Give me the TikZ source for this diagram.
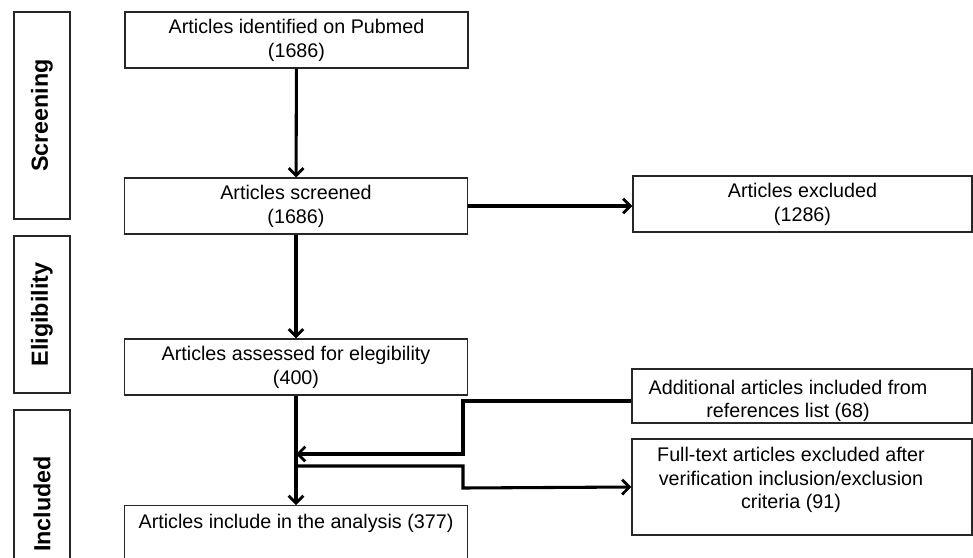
\documentclass[tikz,border=0pt]{standalone}
\usepackage{fontspec}
\setmainfont{Liberation Sans}
\usetikzlibrary{arrows.meta}
\begin{document}
\begin{tikzpicture}[x=0.75pt,y=-0.75pt,
  box/.style={draw=black!85, line width=0.9pt, inner sep=0pt, align=center,
    font=\fontsize{14.8}{18}\selectfont},
  mainbox/.style={box, minimum width=257.25pt, minimum height=42pt},
  txt/.style={inner sep=0pt, align=center, font=\fontsize{14.8}{17.5}\selectfont},
  lab/.style={draw=black!85, line width=0.9pt, inner sep=0pt, rotate=90,
    minimum height=42pt, font=\bfseries\fontsize{17.5}{20}\selectfont},
  labtxt/.style={inner sep=0pt, rotate=90, font=\bfseries\fontsize{17.5}{20}\selectfont},
  arr/.style={line width=2.3pt, -{Straight Barb[length=5.5pt,width=11pt,line width=2.1pt]}}]
\clip (0,0) rectangle (973,557);
\fill[white] (0,0) rectangle (973,557);
% stage labels
\node[lab, minimum width=155.25pt] (scr) at (42,115.5) {Screening};
\node[lab, minimum width=117.75pt] (eli) at (42,314.5) {Eligibility};
\node[lab, minimum width=150pt] (inc) at (42,510) {};
\node[labtxt] (inct) at (42,504) {Included};
% main boxes
\node[mainbox] (b1) at (296.5,40) {Articles identified on Pubmed\\(1686)};
\node[mainbox] (b2) at (296,206) {Articles screened\\(1686)};
\node[mainbox] (b3) at (296,367) {Articles assessed for elegibility\\(400)};
\node[mainbox, anchor=north] (b4) at (296,505) {Articles include in the analysis (377)\\\mbox{}};
% right boxes
\node[box, minimum width=254.25pt, minimum height=42pt] (exc) at (802.5,204) {Articles excluded\\(1286)};
\node[box, minimum width=255pt, minimum height=40.5pt] (add) at (802,396) {};
\node[txt] (addt) at (788,401) {Additional articles included from\\references list (68)};
\node[box, minimum width=255pt, minimum height=72pt] (ft) at (802,487) {};
\node[txt] (ftt) at (791,480) {Full-text articles excluded after\\verification inclusion/exclusion\\criteria (91)};
% connectors
\coordinate (j1) at (296,454);
\coordinate (j2) at (296,466);
\draw[arr] (b1) -- (b2);
\draw[arr] (b2.east) -- (b2.east -| exc.west);
\draw[arr] (b2) -- (b3);
\draw[arr] (b3) -- (b4);
\draw[arr] ([yshift=-3.75pt]add.west) -| (463,454) -- (j1);
\draw[arr] (j2) -| (463,488) -- (ft.west);
\end{tikzpicture}
\end{document}
